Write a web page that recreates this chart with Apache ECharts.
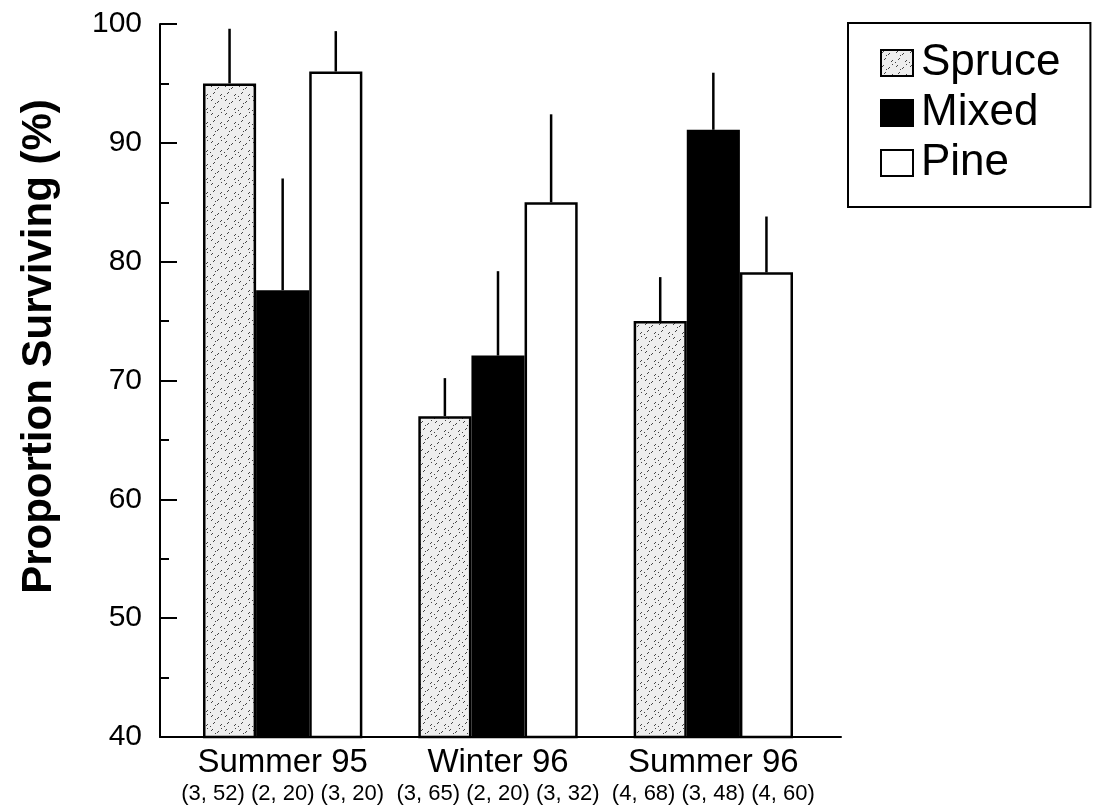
<!DOCTYPE html>
<html>
<head>
<meta charset="utf-8">
<script src="https://cdn.jsdelivr.net/npm/echarts@6/dist/echarts.min.js"></script>
<style>
  html, body { margin: 0; padding: 0; background: #fff; }
  #chart { width: 1098px; height: 811px; }
</style>
</head>
<body>
<div id="chart"></div>
<script>
// values
var categories = ['Summer 95', 'Winter 96', 'Summer 96'];
var sampleLabels = ['(3, 52) (2, 20) (3, 20)', '(3, 65) (2, 20) (3, 32)', '(4, 68) (3, 48) (4, 60)'];
var seriesNames = ['Spruce', 'Mixed', 'Pine'];
var spruce = [95, 67, 75];
var mixed = [77.6, 72.1, 91.1];
var pine = [96, 85, 79.1];
// top end of the error bars
var spruceUpper = [99.6, 70.2, 78.7];
var mixedUpper = [87.0, 79.2, 95.9];
var pineUpper = [99.4, 92.4, 83.8];
var yTicks = [40, 50, 60, 70, 80, 90, 100];

var FONT = '"Liberation Sans", Arial, sans-serif';
var CAT_GAP = 0.26;

// speckled fill for the spruce bars
function makeSpeckle() {
  var c = document.createElement('canvas');
  c.width = 14; c.height = 14;
  var ctx = c.getContext('2d');
  ctx.fillStyle = '#eeeeee';
  ctx.fillRect(0, 0, 14, 14);
  ctx.strokeStyle = '#444';
  ctx.lineWidth = 1;
  var dashes = [[1, 3, 3, 1], [7, 5, 9, 3], [3, 10, 5, 8], [10, 12, 12, 10], [11, 1, 12, 0], [5, 6, 6, 5], [0, 13, 1, 12]];
  dashes.forEach(function (d) {
    ctx.beginPath();
    ctx.moveTo(d[0], d[1]);
    ctx.lineTo(d[2], d[3]);
    ctx.stroke();
  });
  return c;
}
var spruceFill = { image: makeSpeckle(), repeat: 'repeat' };

function errorSeries(upper, base, k) {
  var data = base.map(function (v, i) { return [i, v, upper[i]]; });
  return {
    type: 'custom',
    xAxisIndex: 0,
    yAxisIndex: 0,
    silent: true,
    z: 1,
    data: data,
    renderItem: function (params, api) {
      var bandW = api.size([1, 0])[0];
      var barW = bandW * (1 - CAT_GAP) / 3;
      var off = (k - 1) * barW;
      var p0 = api.coord([api.value(0), api.value(1)]);
      var p1 = api.coord([api.value(0), api.value(2)]);
      return {
        type: 'line',
        shape: { x1: p0[0] + off, y1: p0[1], x2: p1[0] + off, y2: p1[1] },
        style: { stroke: '#000', lineWidth: 2.5 }
      };
    }
  };
}

var chart = echarts.init(document.getElementById('chart'));
chart.setOption({
  backgroundColor: '#fff',
  animation: false,
  textStyle: { fontFamily: FONT, color: '#000' },
  legend: {
    orient: 'vertical',
    left: 848,
    top: 23,
    padding: [18, 30, 22, 32],
    itemGap: 6,
    itemWidth: 32,
    itemHeight: 26,
    borderColor: '#000',
    borderWidth: 2,
    borderRadius: 0,
    icon: 'rect',
    data: seriesNames,
    textStyle: { fontSize: 44, lineHeight: 44, fontFamily: FONT, color: '#000', padding: [0, 0, 0, 3] }
  },
  grid: [
    { left: 175, right: 277, top: 24, bottom: 74 },
    { left: 160, right: 257, top: 24, bottom: 74 }
  ],
  xAxis: [
    {
      type: 'category',
      gridIndex: 0,
      data: categories,
      axisLine: { show: false },
      axisTick: { show: false },
      axisLabel: {
        margin: 8,
        interval: 0,
        formatter: function (v, i) {
          return '{a|' + v + '}\n{b|' + sampleLabels[i] + '}';
        },
        rich: {
          a: { fontSize: 33, lineHeight: 36, fontFamily: FONT, color: '#000' },
          b: { fontSize: 22, lineHeight: 26, fontFamily: FONT, color: '#000' }
        }
      }
    },
    {
      type: 'value',
      gridIndex: 1,
      min: 0,
      max: 1,
      axisLine: { show: true, lineStyle: { color: '#000', width: 2 } },
      axisTick: { show: false },
      axisLabel: { show: false },
      splitLine: { show: false }
    }
  ],
  yAxis: [
    {
      type: 'value',
      gridIndex: 0,
      min: 40,
      max: 100,
      show: false,
      splitLine: { show: false }
    },
    {
      type: 'value',
      gridIndex: 1,
      min: yTicks[0],
      max: yTicks[yTicks.length - 1],
      interval: 10,
      name: 'Proportion Surviving (%)',
      nameLocation: 'middle',
      nameGap: 100,
      nameTextStyle: { fontSize: 42, fontWeight: 'bold', fontFamily: FONT, color: '#000', padding: [0, 0, 0, 68] },
      axisLine: { show: true, lineStyle: { color: '#000', width: 2 } },
      axisTick: { show: true, inside: true, length: 17, lineStyle: { color: '#000', width: 2 } },
      minorTick: { show: true, splitNumber: 2, length: 9, lineStyle: { color: '#000', width: 2 } },
      axisLabel: { fontSize: 30, margin: 18, color: '#000', fontFamily: FONT },
      splitLine: { show: false }
    }
  ],
  series: [
    {
      name: 'Spruce', type: 'bar', data: spruce, z: 2,
      barGap: '0%', barCategoryGap: (CAT_GAP * 100) + '%',
      itemStyle: { color: spruceFill, borderColor: '#000', borderWidth: 2.5 }
    },
    {
      name: 'Mixed', type: 'bar', data: mixed, z: 2,
      itemStyle: { color: '#000', borderColor: '#000', borderWidth: 2.5 }
    },
    {
      name: 'Pine', type: 'bar', data: pine, z: 2,
      itemStyle: { color: '#fff', borderColor: '#000', borderWidth: 2.5 }
    },
    errorSeries(spruceUpper, spruce, 0),
    errorSeries(mixedUpper, mixed, 1),
    errorSeries(pineUpper, pine, 2)
  ]
});
</script>
</body>
</html>
